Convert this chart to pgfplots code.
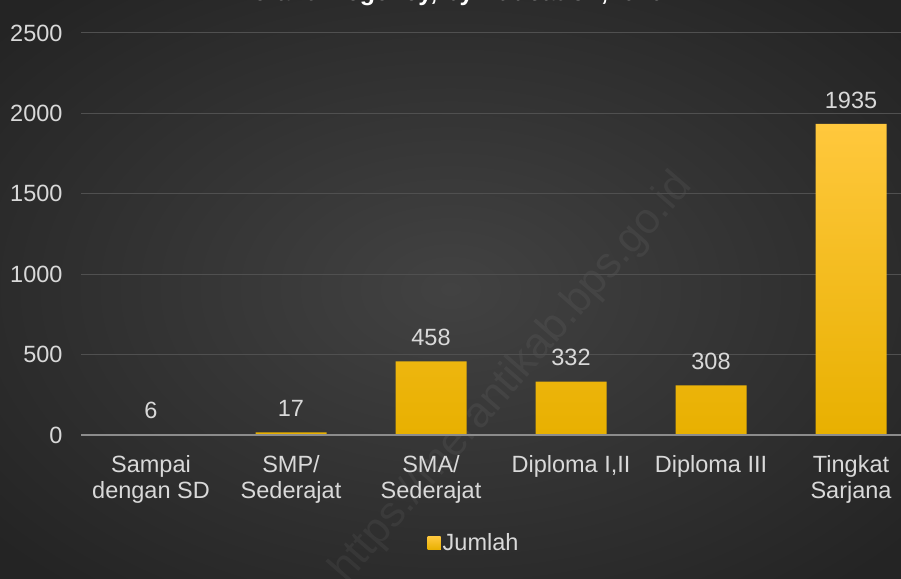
\documentclass[border=0pt]{standalone}
\usepackage{pgfplots}
\pgfplotsset{compat=1.18}
\usepackage{fontspec}
\setmainfont{Liberation Sans}
\definecolor{bgin}{HTML}{424242}
\definecolor{bgout}{HTML}{242424}
\definecolor{txt}{HTML}{D9D9D9}
\definecolor{gridc}{HTML}{505050}
\definecolor{axc}{HTML}{8C8C8C}
\definecolor{bartop}{HTML}{FFC83D}
\definecolor{barbot}{HTML}{E8B000}
\begin{document}
\begin{tikzpicture}[x=1pt,y=1pt]
\useasboundingbox (0,0) rectangle (901,578);
\shade[inner color=bgin, outer color=bgout] (-150,-100) rectangle (1051,678);
\node[rotate=49, text=white, opacity=0.05, font=\fontsize{43}{43}\selectfont] at (512,200) {https://merantikab.bps.go.id};
\node[anchor=base, text=white, font=\bfseries\fontsize{25}{25}\selectfont] at (448,577.5) {Meranti Regency, by Education,2020};
\begin{axis}[
  at={(81pt,143pt)}, anchor=south west,
  scale only axis, width=840pt, height=402pt,
  ymin=0, ymax=2500, xmin=-0.5, xmax=5.5,
  ytick={0,500,...,2500},
  xtick={0,...,5},
  xticklabels={Sampai\\dengan SD, SMP/\\Sederajat, SMA/\\Sederajat, {Diploma I,II}, Diploma III, Tingkat\\Sarjana},
  xticklabel style={align=center, text=txt, font=\fontsize{23.5}{25.5}\selectfont, anchor=north, yshift=-13pt},
  yticklabel style={text=txt, font=\fontsize{23.5}{23.5}\selectfont, xshift=-15pt},
  /pgf/number format/assume math mode=true,
  /pgf/number format/1000 sep={},
  axis line style={draw=none},
  tick style={draw=none},
  ymajorgrids, grid style={gridc, line width=1pt},
  axis x line*=bottom,
  ybar, bar width=71pt,
  nodes near coords,
  every node near coord/.append style={text=txt, font=\fontsize{23.5}{23.5}\selectfont, anchor=south, yshift=12pt},
  legend style={at={(0.468,-0.269)}, anchor=center, draw=none, fill=none, text=txt, font=\fontsize{23.5}{23.5}\selectfont, inner sep=0pt},
  legend image code/.code={\fill[bartop] (0pt,-6.5pt) rectangle (13pt,6.5pt);},
  clip=false,
]
\addplot[draw=none, top color=bartop, bottom color=barbot] coordinates {(0,6) (1,17) (2,458) (3,332) (4,308) (5,1935)};
\addlegendentry{Jumlah}
\draw[axc, line width=2pt] (axis cs:-0.5,0) -- (axis cs:5.5,0);
\end{axis}
\end{tikzpicture}
\end{document}
